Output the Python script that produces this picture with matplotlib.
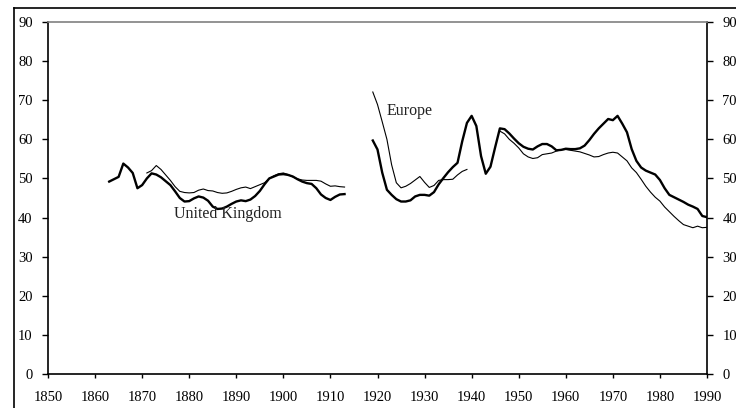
import numpy as np
import matplotlib.pyplot as plt
from matplotlib.lines import Line2D

plt.rcParams['font.family'] = ['Liberation Serif', 'DejaVu Serif']

# Serie gruesa: 1863-1913 y 1919-1990
anios_a1 = np.arange(1863, 1914)
serie_a1 = [49.2, 49.8, 50.4, 53.8, 52.8, 51.4, 47.5, 48.3, 50.0, 51.3,
            51.0, 50.3, 49.3, 48.3, 46.7, 45.0, 44.1, 44.2, 44.9, 45.4,
            45.1, 44.3, 42.8, 42.2, 42.3, 42.8, 43.5, 44.1, 44.4, 44.2,
            44.6, 45.5, 46.8, 48.5, 50.0, 50.5, 51.0, 51.1, 50.9, 50.5,
            49.8, 49.2, 48.8, 48.6, 47.5, 45.9, 45.0, 44.5, 45.3, 45.9,
            46.0]
anios_a2 = np.arange(1919, 1991)
serie_a2 = [59.7, 57.4, 51.5, 47.1, 45.8, 44.7, 44.1, 44.1, 44.4, 45.4,
            45.8, 45.8, 45.6, 46.5, 48.5, 50.1, 51.6, 52.9, 54.0, 59.5,
            64.2, 66.0, 63.4, 55.7, 51.2, 53.0, 58.0, 62.8, 62.6, 61.5,
            60.2, 59.0, 58.1, 57.6, 57.4, 58.2, 58.8, 58.8, 58.2, 57.2,
            57.3, 57.6, 57.5, 57.5, 57.7, 58.4, 59.8, 61.4, 62.8, 64.0,
            65.2, 64.9, 66.0, 64.0, 61.8, 57.5, 54.5, 52.8, 52.0, 51.5,
            51.0, 49.6, 47.5, 45.8, 45.2, 44.6, 44.0, 43.3, 42.8, 42.2,
            40.4, 40.1]

# Serie fina: 1871-1913, 1919-1939 y 1946-1990
anios_b1 = np.arange(1871, 1914)
serie_b1 = [51.4, 52.0, 53.3, 52.3, 50.9, 49.5, 47.9, 46.7, 46.4, 46.3,
            46.4, 47.0, 47.3, 46.9, 46.8, 46.4, 46.2, 46.3, 46.7, 47.2,
            47.6, 47.8, 47.4, 47.9, 48.4, 48.9, 50.0, 50.7, 51.2, 51.4,
            51.0, 50.4, 49.9, 49.6, 49.5, 49.5, 49.5, 49.3, 48.6, 48.0,
            48.1, 47.9, 47.8]
anios_b2 = np.arange(1919, 1940)
serie_b2 = [72.1, 68.9, 64.5, 60.0, 53.5, 48.9, 47.6, 48.0, 48.7, 49.6,
            50.5, 49.0, 47.7, 48.2, 49.5, 49.7, 49.7, 49.8, 50.9, 51.8,
            52.3]
anios_b3 = np.arange(1946, 1991)
serie_b3 = [62.1, 61.4, 60.0, 59.0, 57.8, 56.3, 55.5, 55.1, 55.3, 56.1,
            56.3, 56.5, 57.0, 57.3, 57.4, 57.2, 57.0, 56.8, 56.4, 56.0,
            55.5, 55.6, 56.1, 56.5, 56.7, 56.5, 55.5, 54.5, 52.7, 51.5,
            49.8, 48.0, 46.5, 45.2, 44.2, 42.7, 41.5, 40.3, 39.2, 38.2,
            37.8, 37.4, 37.8, 37.4, 37.5]

fig = plt.figure(figsize=(7.36, 4.08), dpi=100)
ax = fig.add_axes([48 / 736, 1 - 374 / 408, (707 - 48) / 736, (374 - 22) / 408])

for anios, serie in [(anios_a1, serie_a1), (anios_a2, serie_a2)]:
    ax.plot(anios, serie, color='black', lw=1.7, solid_joinstyle='round')
for anios, serie in [(anios_b1, serie_b1), (anios_b2, serie_b2), (anios_b3, serie_b3)]:
    ax.plot(anios, serie, color='black', lw=0.8)

ax.text(1876.8, 40.8, 'United Kingdom', fontsize=11.5, va='center', ha='left', color='#222222')
ax.text(1922.0, 67.2, 'Europe', fontsize=11.5, va='center', ha='left', color='#222222')

ax.set_xlim(1850, 1990)
ax.set_ylim(0, 90)
ax.set_xticks(np.arange(1850, 1991, 10))
ax.set_yticks(np.arange(0, 91, 10))

for lado in ['left', 'right', 'bottom']:
    ax.spines[lado].set_color('black')
    ax.spines[lado].set_linewidth(1.2)
ax.spines['top'].set_color('#808080')
ax.spines['top'].set_linewidth(1.2)

ax.tick_params(axis='y', direction='out', length=4, width=1, pad=7,
               labelsize=10.5, right=True, labelright=True, colors='black')
ax.tick_params(axis='x', direction='out', length=3, width=1, pad=9,
               labelsize=10.5, colors='black')

# Marco exterior del gráfico
fig.add_artist(Line2D([14 / 736, 14 / 736], [0, 1 - 8 / 408], transform=fig.transFigure,
                      color='black', lw=1.2))
fig.add_artist(Line2D([14 / 736, 1], [1 - 8 / 408, 1 - 8 / 408], transform=fig.transFigure,
                      color='black', lw=1.2))

fig.savefig('out.png', dpi=100)
